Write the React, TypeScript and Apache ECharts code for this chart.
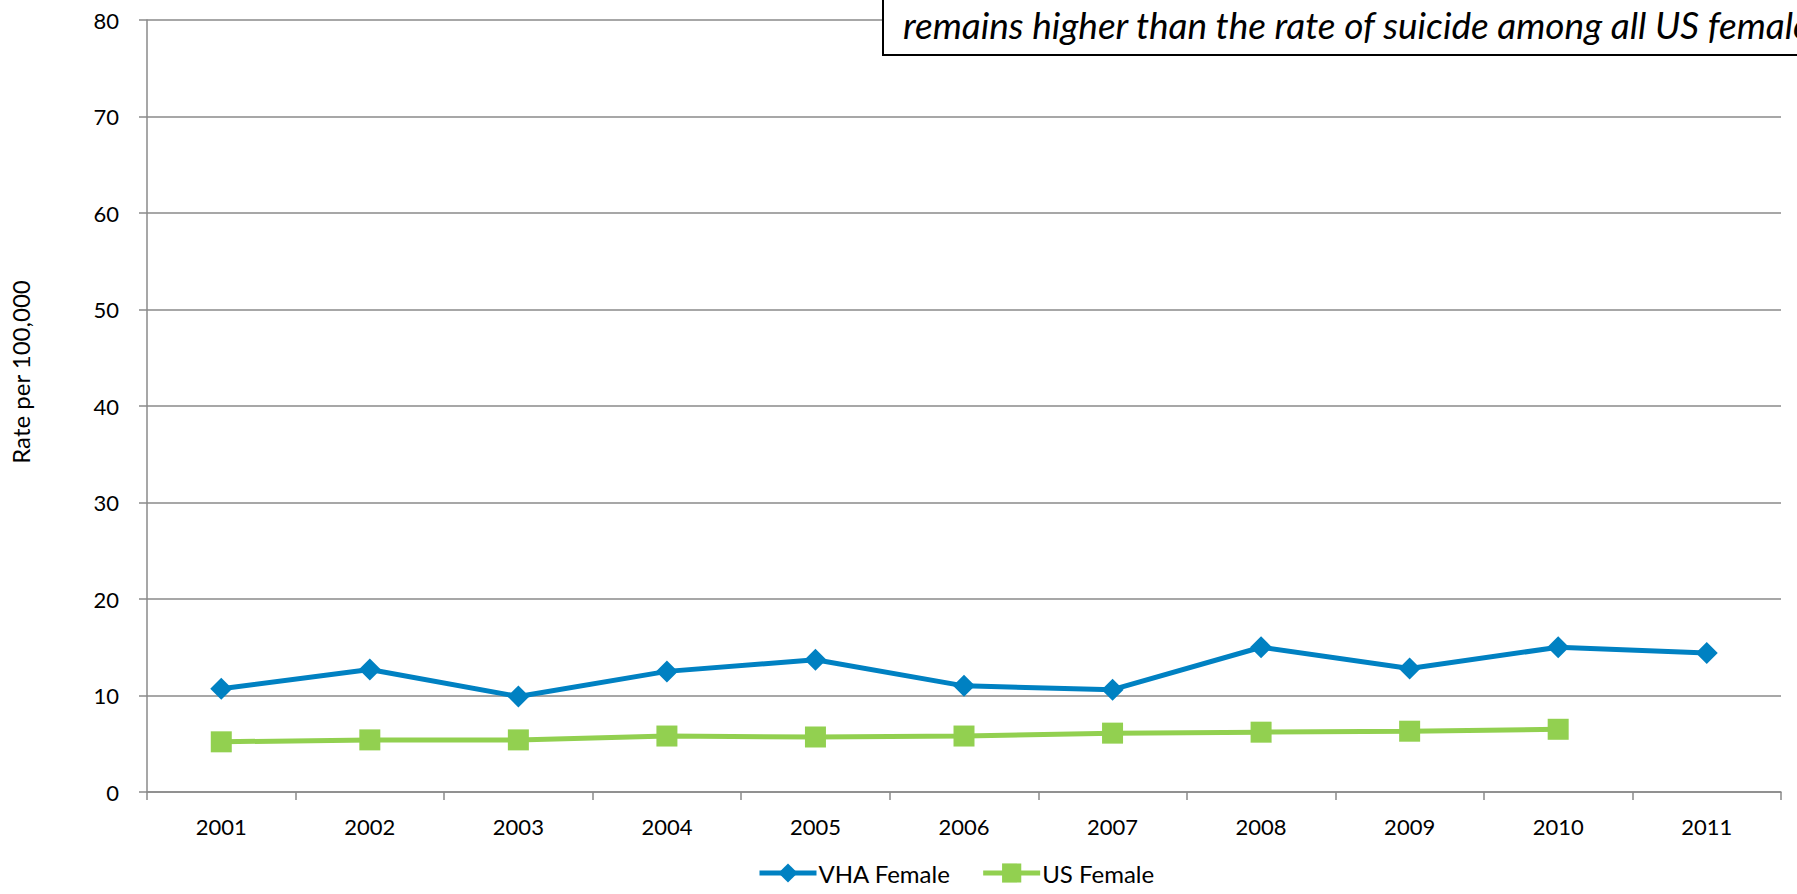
import React, { useEffect, useRef } from "react";
import * as echarts from "echarts";

const categories = ["2001", "2002", "2003", "2004", "2005", "2006", "2007", "2008", "2009", "2010", "2011"];
const vhaFemale = [10.7, 12.7, 9.9, 12.5, 13.7, 11.0, 10.6, 15.0, 12.8, 15.0, 14.4];
const usFemale: (number | null)[] = [5.2, 5.4, 5.4, 5.8, 5.7, 5.8, 6.1, 6.2, 6.3, 6.5, null];
const seriesNames = ["VHA Female", "US Female"];
const yMin = 0;
const yMax = 80;
const yInterval = 10;
const yAxisTitle = "Rate per 100,000";
const noteText = "remains higher than the rate of suicide among all US females.";

const FONT = "Lato, 'Open Sans', sans-serif";
const AXIS_GRAY = "#8a8a8a";

export default function App() {
  const ref = useRef<HTMLDivElement>(null);
  useEffect(() => {
    if (!ref.current) return;
    const chart = echarts.init(ref.current, undefined, { renderer: "svg" });
    chart.setOption({
      animation: false,
      backgroundColor: "#ffffff",
      grid: { left: 147, top: 20, width: 1634, height: 772, containLabel: false },
      legend: {
        left: 752,
        top: 856,
        itemWidth: 57,
        itemHeight: 24,
        itemGap: 30,
        lineStyle: { width: 5 },
        textStyle: { fontFamily: FONT, fontSize: 24, color: "#000", padding: [0, 0, 0, -3] },
        data: seriesNames,
      },
      xAxis: {
        type: "category",
        data: categories,
        boundaryGap: true,
        axisLine: { show: true, lineStyle: { color: AXIS_GRAY, width: 1.5 } },
        axisTick: { show: true, alignWithLabel: false, length: 8, lineStyle: { color: AXIS_GRAY, width: 1.5 } },
        axisLabel: { fontFamily: FONT, fontSize: 22, color: "#000", margin: 23 },
        splitLine: { show: false },
      },
      yAxis: {
        type: "value",
        min: yMin,
        max: yMax,
        interval: yInterval,
        axisLine: { show: true, lineStyle: { color: AXIS_GRAY, width: 1.5 } },
        axisTick: { show: true, length: 8, lineStyle: { color: AXIS_GRAY, width: 1.5 } },
        axisLabel: { fontFamily: FONT, fontSize: 22, color: "#000", margin: 28 },
        splitLine: { show: true, lineStyle: { color: AXIS_GRAY, width: 1.5 } },
      },
      series: [
        {
          name: seriesNames[0],
          type: "line",
          data: vhaFemale,
          symbol: "diamond",
          symbolSize: 22,
          lineStyle: { color: "#0081C2", width: 5 },
          itemStyle: { color: "#0081C2" },
          z: 3,
        },
        {
          name: seriesNames[1],
          type: "line",
          data: usFemale,
          symbol: "rect",
          symbolSize: 21,
          lineStyle: { color: "#92D050", width: 5 },
          itemStyle: { color: "#92D050" },
          z: 2,
        },
      ],
      graphic: [
        {
          type: "text",
          z: 100,
          x: 20,
          y: 372,
          rotation: Math.PI / 2,
          style: {
            text: yAxisTitle,
            fontFamily: FONT,
            fontSize: 24,
            fill: "#000",
            align: "center",
            verticalAlign: "middle",
          },
        },
        {
          type: "rect",
          z: 100,
          shape: { x: 883, y: -20, width: 1000, height: 75 },
          style: { fill: "#ffffff", stroke: "#000000", lineWidth: 2 },
        },
        {
          type: "text",
          z: 101,
          x: 903,
          y: 24,
          style: {
            text: noteText,
            fontFamily: FONT,
            fontSize: 37,
            fontStyle: "italic",
            fill: "#000",
            align: "left",
            verticalAlign: "middle",
          },
        },
      ],
    });
    return () => chart.dispose();
  }, []);
  return (
    <div
      ref={ref}
      style={{ position: "absolute", left: 0, top: 0, width: 1797, height: 894 }}
    />
  );
}
